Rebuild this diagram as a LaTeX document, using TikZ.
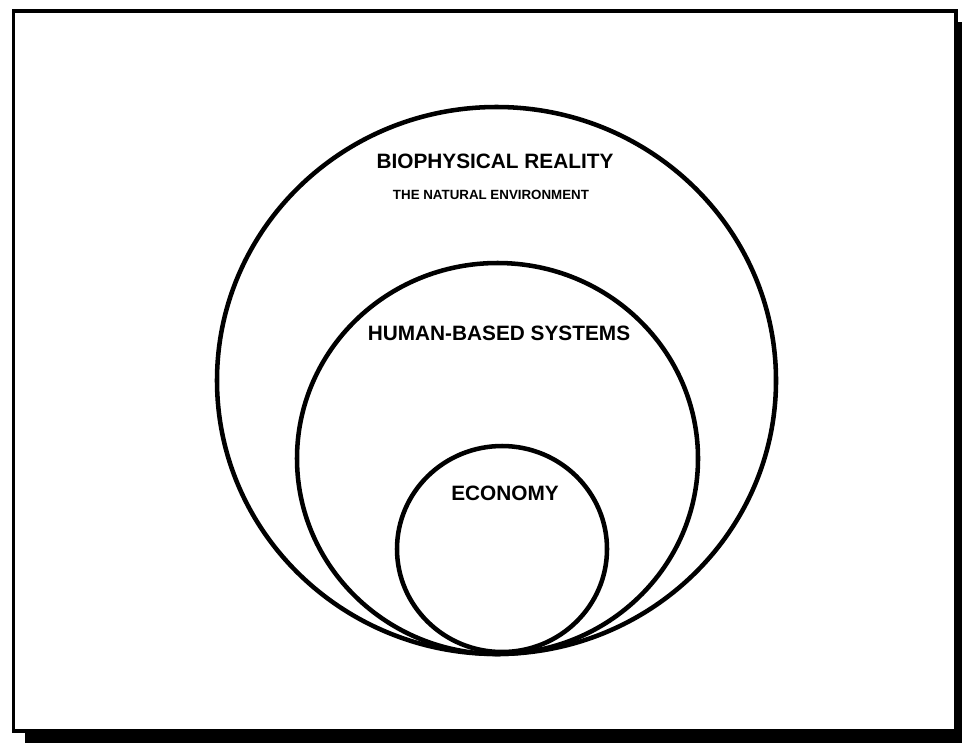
\documentclass[tikz,border=0pt]{standalone}
\usepackage{fontspec}
\setmainfont{Liberation Sans}
\usetikzlibrary{positioning}
\tikzset {
  frame/.style = {draw, line width=2.4pt, fill=white},
  shade/.style = {fill=black},
  ring/.style = {draw, line width=3.4pt},
  title/.style = {font=\bfseries\fontsize{15.6}{17}\selectfont, inner sep=0pt},
  subtitle/.style = {font=\bfseries\fontsize{10}{12}\selectfont, inner sep=0pt}
}

\begin{document}
\begin{tikzpicture}[x=0.75pt, y=-0.75pt]

    \useasboundingbox (0,0) rectangle (962,743);
    \fill[shade] (25,22) rectangle (962,743);
    \draw[frame] (13.5,11) rectangle (956,731);

    % nested systems, all touching at the bottom
    \draw[ring] (496.5,380.5) ellipse [x radius=279.5, y radius=273.5];
    \draw[ring] (497.5,458.5) ellipse [x radius=200.5, y radius=195.5];
    \draw[ring] (502,549) ellipse [x radius=105, y radius=103];

    \node[title, name=bio] (bio) at (495,161) {BIOPHYSICAL REALITY};
    \node[subtitle, name=nature] (nature) at (491,195) {THE NATURAL ENVIRONMENT};
    \node[title, name=human] (human) at (499,333) {HUMAN-BASED SYSTEMS};
    \node[title, name=economy] (economy) at (505,493) {ECONOMY};

\end{tikzpicture}
\end{document}
